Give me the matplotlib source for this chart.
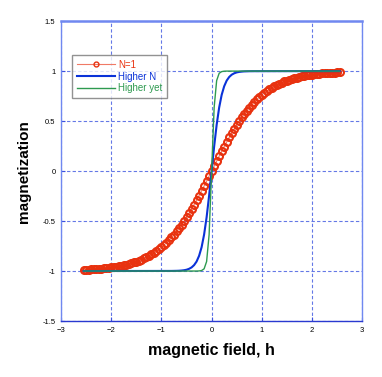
import matplotlib
matplotlib.use("Agg")
import matplotlib.pyplot as plt

plt.rcParams['font.family'] = ['Liberation Sans', 'DejaVu Sans']

# N=1 series
h1 = [-2.55, -2.50, -2.45, -2.40, -2.35, -2.30, -2.25, -2.20, -2.15, -2.10, -2.05, -2.00,
      -1.95, -1.90, -1.85, -1.80, -1.75, -1.70, -1.65, -1.60, -1.55, -1.50, -1.45, -1.40,
      -1.35, -1.30, -1.25, -1.20, -1.15, -1.10, -1.05, -1.00, -0.95, -0.90, -0.85, -0.80,
      -0.75, -0.70, -0.65, -0.60, -0.55, -0.50, -0.45, -0.40, -0.35, -0.30, -0.25, -0.20,
      -0.15, -0.10, -0.05, 0.00, 0.05, 0.10, 0.15, 0.20, 0.25, 0.30, 0.35, 0.40, 0.45,
      0.50, 0.55, 0.60, 0.65, 0.70, 0.75, 0.80, 0.85, 0.90, 0.95, 1.00, 1.05, 1.10, 1.15,
      1.20, 1.25, 1.30, 1.35, 1.40, 1.45, 1.50, 1.55, 1.60, 1.65, 1.70, 1.75, 1.80, 1.85,
      1.90, 1.95, 2.00, 2.05, 2.10, 2.15, 2.20, 2.25, 2.30, 2.35, 2.40, 2.45, 2.50, 2.55]
m1 = [-0.988, -0.987, -0.985, -0.984, -0.982, -0.980, -0.978, -0.976, -0.973, -0.970, -0.967, -0.964,
      -0.960, -0.956, -0.952, -0.947, -0.941, -0.935, -0.929, -0.922, -0.914, -0.905, -0.896, -0.885,
      -0.874, -0.862, -0.848, -0.834, -0.818, -0.800, -0.782, -0.762, -0.740, -0.716, -0.691, -0.664,
      -0.635, -0.604, -0.572, -0.537, -0.501, -0.462, -0.422, -0.380, -0.336, -0.291, -0.245, -0.197,
      -0.149, -0.100, -0.050, 0.000, 0.050, 0.100, 0.149, 0.197, 0.245, 0.291, 0.336, 0.380, 0.422,
      0.462, 0.501, 0.537, 0.572, 0.604, 0.635, 0.664, 0.691, 0.716, 0.740, 0.762, 0.782, 0.800, 0.818,
      0.834, 0.848, 0.862, 0.874, 0.885, 0.896, 0.905, 0.914, 0.922, 0.929, 0.935, 0.941, 0.947, 0.952,
      0.956, 0.960, 0.964, 0.967, 0.970, 0.973, 0.976, 0.978, 0.980, 0.982, 0.984, 0.985, 0.987, 0.988]

# Higher N series
h2 = [-2.55, -0.80, -0.70, -0.65, -0.60, -0.55, -0.50, -0.45, -0.40, -0.35, -0.30, -0.25,
      -0.20, -0.15, -0.10, -0.05, 0.00, 0.05, 0.10, 0.15, 0.20, 0.25, 0.30, 0.35, 0.40,
      0.45, 0.50, 0.55, 0.60, 0.65, 0.70, 0.80, 2.55]
m2 = [-1.000, -0.999, -0.998, -0.997, -0.995, -0.992, -0.987, -0.978, -0.964, -0.941, -0.905, -0.848,
      -0.762, -0.635, -0.462, -0.245, 0.000, 0.245, 0.462, 0.635, 0.762, 0.848, 0.905, 0.941, 0.964,
      0.978, 0.987, 0.992, 0.995, 0.997, 0.998, 0.999, 1.000]

# Higher yet series
h3 = [-2.55, -0.30, -0.25, -0.20, -0.15, -0.10, -0.05, 0.00, 0.05, 0.10, 0.15, 0.20, 0.25, 0.30, 2.55]
m3 = [-1.000, -1.000, -0.999, -0.995, -0.978, -0.905, -0.635, 0.000, 0.635, 0.905, 0.978, 0.995, 0.999, 1.000, 1.000]

xticks = [-3, -2, -1, 0, 1, 2, 3]
yticks = [-1.5, -1, -0.5, 0, 0.5, 1, 1.5]
yticklabels = ['-1.5', '-1', '-0.5', '0', '0.5', '1', '1.5']

fig = plt.figure(figsize=(3.82, 3.77), dpi=100)
ax = fig.add_axes([0.160, 0.1485, 0.788, 0.7955])

ax.plot(h1, m1, color='#f07a66', lw=0.8, marker='o', ms=5, mfc='none',
        mec='#e8320f', mew=1.5, label='N=1', zorder=3)
ax.plot(h2, m2, color='#0a32d8', lw=1.5, label='Higher N', zorder=4)
ax.plot(h3, m3, color='#2e9a50', lw=1.0, label='Higher yet', zorder=4)

ax.set_xlim(-3, 3)
ax.set_ylim(-1.5, 1.5)
ax.set_xticks(xticks)
ax.set_yticks(yticks)
ax.set_yticklabels(yticklabels)
ax.tick_params(direction='in', length=3, width=0.8, colors='#3a50e0', labelsize=5.5,
               labelcolor='black', pad=4)
ax.grid(True, color='#6478e6', linestyle=(0, (3, 2)), linewidth=0.8)
for s in ax.spines.values():
    s.set_color('#7088f0')
    s.set_linewidth(1.0)
ax.spines['bottom'].set_color('#2a3ad0')
ax.spines['top'].set_linewidth(1.8)

ax.set_xlabel('magnetic field, h', fontsize=11.5, fontweight='bold', labelpad=7)
ax.set_ylabel('magnetization', fontsize=11, fontweight='bold', labelpad=8)

leg = ax.legend(loc='upper left', bbox_to_anchor=(0.035, 0.888), fontsize=7,
                frameon=True, fancybox=False, borderpad=0.5, handlelength=4,
                labelspacing=0.2, handletextpad=0.3, borderaxespad=0)
leg.get_frame().set_edgecolor('#777777')
leg.get_frame().set_linewidth(1.0)
for t, c in zip(leg.get_texts(), ['#e8320f', '#0a32d8', '#2e9a50']):
    t.set_color(c)
leg.legend_handles[0].set_markersize(3.5)
leg.legend_handles[0].set_markeredgewidth(1.0)
leg.legend_handles[0].set_markevery([1])

fig.savefig('out.png', dpi=100)
